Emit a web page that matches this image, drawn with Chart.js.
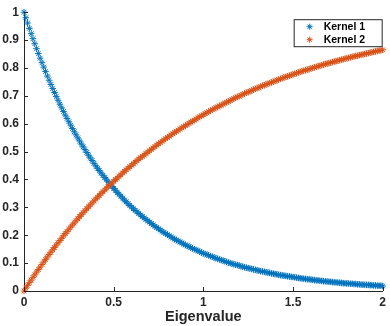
<!DOCTYPE html>
<html>
<head>
<meta charset="utf-8">
<script src="https://cdn.jsdelivr.net/npm/chart.js@4/dist/chart.umd.min.js"></script>
<style>
  html, body { margin: 0; padding: 0; background: #fff; }
  #wrap { width: 390px; height: 326px; }
</style>
</head>
<body>
<div id="wrap"><canvas id="kernelChart"></canvas></div>
<script>
// eigenvalues (x), step 0.01
const eigenvalues = [
  0.00, 0.01, 0.02, 0.03, 0.04, 0.05, 0.06, 0.07, 0.08, 0.09,
  0.10, 0.11, 0.12, 0.13, 0.14, 0.15, 0.16, 0.17, 0.18, 0.19,
  0.20, 0.21, 0.22, 0.23, 0.24, 0.25, 0.26, 0.27, 0.28, 0.29,
  0.30, 0.31, 0.32, 0.33, 0.34, 0.35, 0.36, 0.37, 0.38, 0.39,
  0.40, 0.41, 0.42, 0.43, 0.44, 0.45, 0.46, 0.47, 0.48, 0.49,
  0.50, 0.51, 0.52, 0.53, 0.54, 0.55, 0.56, 0.57, 0.58, 0.59,
  0.60, 0.61, 0.62, 0.63, 0.64, 0.65, 0.66, 0.67, 0.68, 0.69,
  0.70, 0.71, 0.72, 0.73, 0.74, 0.75, 0.76, 0.77, 0.78, 0.79,
  0.80, 0.81, 0.82, 0.83, 0.84, 0.85, 0.86, 0.87, 0.88, 0.89,
  0.90, 0.91, 0.92, 0.93, 0.94, 0.95, 0.96, 0.97, 0.98, 0.99,
  1.00, 1.01, 1.02, 1.03, 1.04, 1.05, 1.06, 1.07, 1.08, 1.09,
  1.10, 1.11, 1.12, 1.13, 1.14, 1.15, 1.16, 1.17, 1.18, 1.19,
  1.20, 1.21, 1.22, 1.23, 1.24, 1.25, 1.26, 1.27, 1.28, 1.29,
  1.30, 1.31, 1.32, 1.33, 1.34, 1.35, 1.36, 1.37, 1.38, 1.39,
  1.40, 1.41, 1.42, 1.43, 1.44, 1.45, 1.46, 1.47, 1.48, 1.49,
  1.50, 1.51, 1.52, 1.53, 1.54, 1.55, 1.56, 1.57, 1.58, 1.59,
  1.60, 1.61, 1.62, 1.63, 1.64, 1.65, 1.66, 1.67, 1.68, 1.69,
  1.70, 1.71, 1.72, 1.73, 1.74, 1.75, 1.76, 1.77, 1.78, 1.79,
  1.80, 1.81, 1.82, 1.83, 1.84, 1.85, 1.86, 1.87, 1.88, 1.89,
  1.90, 1.91, 1.92, 1.93, 1.94, 1.95, 1.96, 1.97, 1.98, 1.99,
  2.00
];
const kernel1 = [
  1.000, 0.980, 0.961, 0.942, 0.923, 0.905, 0.887, 0.869, 0.852, 0.835,
  0.819, 0.803, 0.787, 0.771, 0.756, 0.741, 0.726, 0.712, 0.698, 0.684,
  0.670, 0.657, 0.644, 0.631, 0.619, 0.607, 0.595, 0.583, 0.571, 0.560,
  0.549, 0.538, 0.527, 0.517, 0.507, 0.497, 0.487, 0.477, 0.468, 0.458,
  0.449, 0.440, 0.432, 0.423, 0.415, 0.407, 0.399, 0.391, 0.383, 0.375,
  0.368, 0.361, 0.353, 0.347, 0.340, 0.333, 0.326, 0.320, 0.313, 0.307,
  0.301, 0.295, 0.289, 0.284, 0.278, 0.273, 0.267, 0.262, 0.257, 0.252,
  0.247, 0.242, 0.237, 0.232, 0.228, 0.223, 0.219, 0.214, 0.210, 0.206,
  0.202, 0.198, 0.194, 0.190, 0.186, 0.183, 0.179, 0.176, 0.172, 0.169,
  0.165, 0.162, 0.159, 0.156, 0.153, 0.150, 0.147, 0.144, 0.141, 0.138,
  0.135, 0.133, 0.130, 0.128, 0.125, 0.123, 0.120, 0.118, 0.115, 0.113,
  0.111, 0.109, 0.107, 0.104, 0.102, 0.100, 0.098, 0.096, 0.094, 0.093,
  0.091, 0.089, 0.087, 0.085, 0.084, 0.082, 0.081, 0.079, 0.077, 0.076,
  0.074, 0.073, 0.071, 0.070, 0.069, 0.067, 0.066, 0.065, 0.063, 0.062,
  0.061, 0.060, 0.058, 0.057, 0.056, 0.055, 0.054, 0.053, 0.052, 0.051,
  0.050, 0.049, 0.048, 0.047, 0.046, 0.045, 0.044, 0.043, 0.042, 0.042,
  0.041, 0.040, 0.039, 0.038, 0.038, 0.037, 0.036, 0.035, 0.035, 0.034,
  0.033, 0.033, 0.032, 0.031, 0.031, 0.030, 0.030, 0.029, 0.028, 0.028,
  0.027, 0.027, 0.026, 0.026, 0.025, 0.025, 0.024, 0.024, 0.023, 0.023,
  0.022, 0.022, 0.022, 0.021, 0.021, 0.020, 0.020, 0.019, 0.019, 0.019,
  0.018
];
const kernel2 = [
  0.000, 0.010, 0.020, 0.030, 0.039, 0.049, 0.058, 0.068, 0.077, 0.086,
  0.095, 0.104, 0.113, 0.122, 0.131, 0.139, 0.148, 0.156, 0.165, 0.173,
  0.181, 0.189, 0.198, 0.206, 0.213, 0.221, 0.229, 0.237, 0.244, 0.252,
  0.259, 0.267, 0.274, 0.281, 0.288, 0.295, 0.302, 0.309, 0.316, 0.323,
  0.330, 0.336, 0.343, 0.350, 0.356, 0.362, 0.369, 0.375, 0.381, 0.387,
  0.393, 0.400, 0.405, 0.411, 0.417, 0.423, 0.429, 0.435, 0.440, 0.446,
  0.451, 0.457, 0.462, 0.468, 0.473, 0.478, 0.483, 0.488, 0.493, 0.498,
  0.503, 0.508, 0.513, 0.518, 0.523, 0.528, 0.532, 0.537, 0.542, 0.546,
  0.551, 0.555, 0.560, 0.564, 0.568, 0.573, 0.577, 0.581, 0.585, 0.589,
  0.593, 0.597, 0.601, 0.606, 0.609, 0.613, 0.617, 0.621, 0.625, 0.628,
  0.632, 0.636, 0.639, 0.643, 0.647, 0.650, 0.654, 0.657, 0.660, 0.664,
  0.667, 0.670, 0.674, 0.677, 0.680, 0.683, 0.686, 0.690, 0.693, 0.696,
  0.699, 0.702, 0.705, 0.708, 0.711, 0.714, 0.716, 0.719, 0.722, 0.725,
  0.728, 0.730, 0.733, 0.736, 0.738, 0.741, 0.743, 0.746, 0.748, 0.751,
  0.753, 0.756, 0.758, 0.761, 0.763, 0.766, 0.768, 0.770, 0.772, 0.775,
  0.777, 0.779, 0.781, 0.784, 0.786, 0.788, 0.790, 0.792, 0.794, 0.796,
  0.798, 0.800, 0.802, 0.804, 0.806, 0.808, 0.810, 0.812, 0.814, 0.816,
  0.817, 0.819, 0.821, 0.823, 0.824, 0.826, 0.828, 0.830, 0.831, 0.833,
  0.835, 0.836, 0.838, 0.840, 0.841, 0.843, 0.844, 0.846, 0.847, 0.849,
  0.850, 0.852, 0.853, 0.855, 0.856, 0.858, 0.859, 0.861, 0.862, 0.863,
  0.865
];
const seriesNames = ['Kernel 1', 'Kernel 2'];
const seriesColors = ['#0072BD', '#D95319'];
const xTicks = [0, 0.5, 1, 1.5, 2];
const yTicks = [0, 0.1, 0.2, 0.3, 0.4, 0.5, 0.6, 0.7, 0.8, 0.9, 1];

const axisColor = '#262626';
const fontFamily = 'Liberation Sans, Arial, sans-serif';
const tickFont = { family: fontFamily, size: 12, weight: 'bold' };

function toPoints(ys) {
    return eigenvalues.map((x, i) => ({ x: x, y: ys[i] }));
}

// asterisk marker (plus + cross)
function drawAsterisk(ctx, x, y, r) {
    const d = r * 0.7;
    ctx.beginPath();
    ctx.moveTo(x - r, y); ctx.lineTo(x + r, y);
    ctx.moveTo(x, y - r); ctx.lineTo(x, y + r);
    ctx.moveTo(x - d, y - d); ctx.lineTo(x + d, y + d);
    ctx.moveTo(x - d, y + d); ctx.lineTo(x + d, y - d);
    ctx.stroke();
}

// inward tick marks like matlab
const innerTicks = {
    id: 'innerTicks',
    afterDatasetsDraw(chart) {
        const ctx = chart.ctx;
        const xs = chart.scales.x, ys = chart.scales.y;
        const a = chart.chartArea;
        ctx.save();
        ctx.strokeStyle = axisColor;
        ctx.lineWidth = 1;
        ctx.beginPath();
        xTicks.forEach(v => {
            const px = Math.round(xs.getPixelForValue(v)) + 0.5;
            ctx.moveTo(px, a.bottom);
            ctx.lineTo(px, a.bottom - 4);
        });
        yTicks.forEach(v => {
            const py = Math.round(ys.getPixelForValue(v)) + 0.5;
            ctx.moveTo(a.left, py);
            ctx.lineTo(a.left + 4, py);
        });
        ctx.stroke();
        ctx.restore();
    }
};

// legend box in the top right corner
const boxLegend = {
    id: 'boxLegend',
    afterDraw(chart) {
        const ctx = chart.ctx;
        const a = chart.chartArea;
        const w = 89, h = 28;
        const left = a.right - w, top = a.top + 7;
        ctx.save();
        ctx.fillStyle = '#fff';
        ctx.fillRect(left, top, w, h);
        ctx.strokeStyle = axisColor;
        ctx.lineWidth = 1;
        ctx.strokeRect(left + 0.5, top + 0.5, w - 1, h - 1);
        ctx.font = 'bold 10.5px ' + fontFamily;
        ctx.textBaseline = 'middle';
        chart.data.datasets.forEach((ds, i) => {
            const cy = top + 7.5 + i * 13;
            ctx.strokeStyle = ds.borderColor;
            drawAsterisk(ctx, left + 16, cy, 3);
            ctx.fillStyle = '#000';
            ctx.fillText(ds.label, left + 30, cy + 0.5);
        });
        ctx.restore();
    }
};

const ctx = document.getElementById('kernelChart').getContext('2d');
const kernelChart = new Chart(ctx, {
    type: 'scatter',
    data: {
        datasets: [kernel1, kernel2].map((ys, i) => ({
            label: seriesNames[i],
            data: toPoints(ys),
            showLine: false,
            order: 1 - i,
            clip: 8,
            pointStyle: 'star',
            pointRadius: 3.3,
            pointBorderWidth: 1,
            borderColor: seriesColors[i],
            backgroundColor: seriesColors[i]
        }))
    },
    options: {
        responsive: true,
        maintainAspectRatio: false,
        animation: false,
        layout: { padding: { top: 6, right: 4, left: 0, bottom: 0 } },
        plugins: {
            legend: { display: false },
            tooltip: { enabled: false }
        },
        scales: {
            x: {
                type: 'linear',
                min: 0, max: 2,
                afterFit: s => { s.height = 35; },
                afterBuildTicks: s => { s.ticks = xTicks.map(v => ({ value: v })); },
                grid: { display: false, drawTicks: false },
                border: { display: true, color: axisColor, width: 1 },
                ticks: {
                    color: axisColor, font: tickFont, padding: 4, maxRotation: 0,
                    callback: v => String(v)
                },
                title: {
                    display: true, text: 'Eigenvalue', color: axisColor,
                    font: { family: fontFamily, size: 14.5, weight: 'bold' },
                    padding: { top: 0, bottom: 0 }
                }
            },
            y: {
                type: 'linear',
                min: 0, max: 1,
                afterFit: s => { s.width = 24; },
                afterBuildTicks: s => { s.ticks = yTicks.map(v => ({ value: v })); },
                grid: { display: false, drawTicks: false },
                border: { display: true, color: axisColor, width: 1 },
                ticks: {
                    color: axisColor, font: tickFont, padding: 5,
                    callback: v => String(v)
                }
            }
        }
    },
    plugins: [innerTicks, boxLegend]
});
</script>
</body>
</html>
